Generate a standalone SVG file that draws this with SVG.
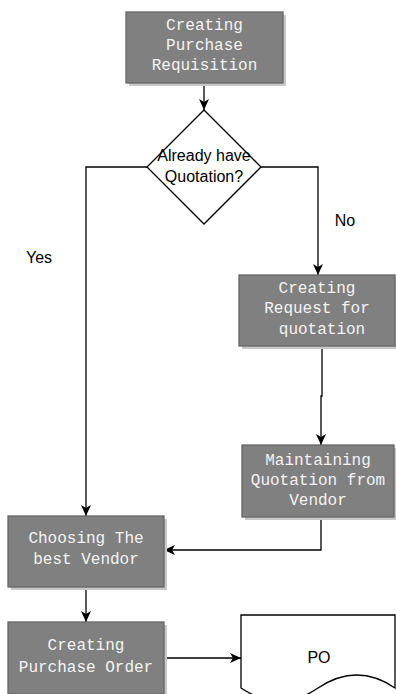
<svg xmlns="http://www.w3.org/2000/svg" width="396" height="694" viewBox="0 0 396 694">
<style>
.box{fill:#808080;stroke:#666666;stroke-width:1.3}
.shadow{fill:#c8c8c8}
.bt{font-family:"Liberation Mono","Courier New",monospace;font-size:16px;fill:#f4f4f4;text-anchor:middle}
.lt{font-family:"Liberation Sans",Arial,sans-serif;font-size:16px;fill:#000;text-anchor:middle}
.edge{fill:none;stroke:#000;stroke-width:1.3}
.shape{fill:#fff;stroke:#000;stroke-width:1.3}
</style>
<defs>
<marker id="arr" viewBox="0 0 12 12" refX="11" refY="6" markerWidth="12" markerHeight="12" markerUnits="userSpaceOnUse" orient="auto">
<path d="M0,1 L11,6 L0,11 L3,6 Z" fill="#000"/>
</marker>
</defs>
<g id="connectors">
<path class="edge" d="M204,83 V110" marker-end="url(#arr)"/>
<path class="edge" d="M148,167 H86 V516" marker-end="url(#arr)"/>
<path class="edge" d="M261,167 H318 V275" marker-end="url(#arr)"/>
<path class="edge" d="M322,346 V396 H321 V445" marker-end="url(#arr)"/>
<path class="edge" d="M321,517 V550 H164" marker-end="url(#arr)"/>
<path class="edge" d="M86,587 V622" marker-end="url(#arr)"/>
<path class="edge" d="M164,658 H241" marker-end="url(#arr)"/>
<text class="lt" x="345" y="226">No</text>
<text class="lt" x="39" y="263">Yes</text>
</g>
<g id="n1">
<rect class="shadow" x="129" y="15" width="157" height="71"/>
<rect class="box" x="126" y="12" width="157" height="71"/>
<text class="bt" x="204.5" y="30">Creating</text>
<text class="bt" x="204.5" y="50">Purchase</text>
<text class="bt" x="204.5" y="70">Requisition</text>
</g>
<g id="n2">
<path class="shape" d="M204,110 L261,167 L204,224 L147,167 Z"/>
<text class="lt" x="204" y="161">Already have</text>
<text class="lt" x="204" y="182">Quotation?</text>
</g>
<g id="n3">
<rect class="shadow" x="242" y="278" width="156" height="71"/>
<rect class="box" x="239" y="275" width="156" height="71"/>
<text class="bt" x="317" y="293">Creating</text>
<text class="bt" x="317" y="313">Request for</text>
<text class="bt" x="322" y="334">quotation</text>
</g>
<g id="n4">
<rect class="shadow" x="245" y="448" width="152" height="72"/>
<rect class="box" x="242" y="445" width="152" height="72"/>
<text class="bt" x="318" y="465">Maintaining</text>
<text class="bt" x="318" y="485">Quotation from</text>
<text class="bt" x="318" y="505">Vendor</text>
</g>
<g id="n5">
<rect class="shadow" x="11" y="519" width="156" height="71"/>
<rect class="box" x="8" y="516" width="156" height="71"/>
<text class="bt" x="86" y="543">Choosing The</text>
<text class="bt" x="86" y="564">best Vendor</text>
</g>
<g id="n6">
<rect class="shadow" x="11" y="625" width="156" height="72"/>
<rect class="box" x="8" y="622" width="156" height="72"/>
<text class="bt" x="86" y="650">Creating</text>
<text class="bt" x="86" y="672">Purchase Order</text>
</g>
<g id="n7">
<path class="shape" d="M241,615 H395 V688 Q357,662 318,688 Q280,714 241,688 Z"/>
<text class="lt" x="319" y="663">PO</text>
</g>
</svg>
